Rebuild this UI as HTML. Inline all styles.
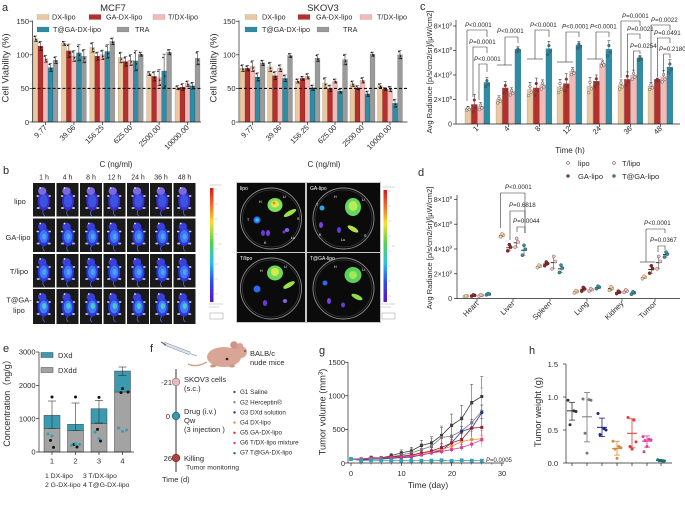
<!DOCTYPE html>
<html><head><meta charset="utf-8"><title>figure</title>
<style>
html,body{margin:0;padding:0;background:#fff;width:685px;height:505px;overflow:hidden}
svg{display:block;font-family:"Liberation Sans","Noto Sans CJK SC",sans-serif}
text{fill:#2a2a2a}
.w text{fill:#fff}
</style></head><body>
<svg id="fig" width="685" height="505" viewBox="0 0 685 505" xmlns="http://www.w3.org/2000/svg">
<defs>
<linearGradient id="cb" x1="0" y1="0" x2="0" y2="1">
<stop offset="0" stop-color="#d7191c"/><stop offset="0.15" stop-color="#f46d2b"/><stop offset="0.3" stop-color="#f5e02a"/><stop offset="0.48" stop-color="#4fd24f"/><stop offset="0.65" stop-color="#27c6e0"/><stop offset="0.82" stop-color="#2b4cf0"/><stop offset="1" stop-color="#5a12c8"/>
</linearGradient>
</defs>
<g id="g"></g>
<g font-size="7.5">
<!-- panel a -->
<text x="2" y="11" font-size="11">a</text>
<text x="113" y="11" font-size="9.5" text-anchor="middle">MCF7</text>
<text x="323" y="11" font-size="9.5" text-anchor="middle">SKOV3</text>
<g font-size="7.2">
<text x="52" y="19.5">DX-lipo</text><text x="106" y="19.5">GA-DX-lipo</text><text x="168" y="19.5">T/DX-lipo</text>
<text x="53" y="32">T@GA-DX-lipo</text><text x="135" y="32">TRA</text>
<text x="262" y="19.5">DX-lipo</text><text x="316" y="19.5">GA-DX-lipo</text><text x="377" y="19.5">T/DX-lipo</text>
<text x="262" y="32">T@GA-DX-lipo</text><text x="343" y="32">TRA</text>
</g>
<g text-anchor="end">
<text x="29" y="23.8">150</text><text x="29" y="57.3">100</text><text x="29" y="91.2">50</text><text x="29" y="124.8">0</text>
<text x="235.5" y="23.8">150</text><text x="235.5" y="57.3">100</text><text x="235.5" y="91.2">50</text><text x="235.5" y="124.8">0</text>
<text transform="translate(47.5,128) rotate(-45)">9.77</text>
<text transform="translate(75.9,128) rotate(-45)">39.06</text>
<text transform="translate(104.3,128) rotate(-45)">156.25</text>
<text transform="translate(132.7,128) rotate(-45)">625.00</text>
<text transform="translate(161.1,128) rotate(-45)">2500.00</text>
<text transform="translate(189.5,128) rotate(-45)">10000.00</text>
<text transform="translate(254.5,128) rotate(-45)">9.77</text>
<text transform="translate(282,128) rotate(-45)">39.06</text>
<text transform="translate(309.5,128) rotate(-45)">156.25</text>
<text transform="translate(337,128) rotate(-45)">625.00</text>
<text transform="translate(364.5,128) rotate(-45)">2500.00</text>
<text transform="translate(392,128) rotate(-45)">10000.00</text>
</g>
<text transform="translate(8.5,68) rotate(-90)" text-anchor="middle" font-size="9.5">Cell Viability (%)</text>
<text transform="translate(216.5,68) rotate(-90)" text-anchor="middle" font-size="9.5">Cell Viability (%)</text>
<text x="116" y="167" font-size="8" text-anchor="middle">C (ng/ml)</text>
<text x="324" y="167" font-size="8" text-anchor="middle">C (ng/ml)</text>

<!-- panel c -->
<text x="420" y="10" font-size="11">c</text>
<text transform="translate(432,72) rotate(-90)" text-anchor="middle" font-size="7.6">Avg Radiance [p/s/cm2/sr]/[μW/cm2]</text>
<g text-anchor="end" font-size="7">
<text x="452" y="28.5">8×10<tspan font-size="4.5" dy="-3">9</tspan></text>
<text x="452" y="53">6×10<tspan font-size="4.5" dy="-3">9</tspan></text>
<text x="452" y="77.5">4×10<tspan font-size="4.5" dy="-3">9</tspan></text>
<text x="452" y="102">2×10<tspan font-size="4.5" dy="-3">9</tspan></text>
<text x="452" y="126.5">0</text>
</g>
<g text-anchor="end">
<text transform="translate(479,129) rotate(-45)">1</text>
<text transform="translate(510,129) rotate(-45)">4</text>
<text transform="translate(541,129) rotate(-45)">8</text>
<text transform="translate(571.5,129) rotate(-45)">12</text>
<text transform="translate(601.5,129) rotate(-45)">24</text>
<text transform="translate(632.5,129) rotate(-45)">36</text>
<text transform="translate(662.5,129) rotate(-45)">48</text>
</g>
<text x="570" y="153" font-size="8" text-anchor="middle">Time (h)</text>
<g font-size="6.2">
<text x="465" y="27"><tspan font-style="italic">P</tspan>&lt;0.0001</text>
<text x="469" y="44"><tspan font-style="italic">P</tspan>=0.0001</text>
<text x="474" y="61"><tspan font-style="italic">P</tspan>&lt;0.0001</text>
<text x="497" y="33"><tspan font-style="italic">P</tspan>&lt;0.0001</text>
<text x="530" y="27"><tspan font-style="italic">P</tspan>&lt;0.0001</text>
<text x="562" y="28.5"><tspan font-style="italic">P</tspan>&lt;0.0001</text>
<text x="590" y="28.5"><tspan font-style="italic">P</tspan>&lt;0.0001</text>
<text x="622" y="18"><tspan font-style="italic">P</tspan>=0.0001</text>
<text x="627" y="31"><tspan font-style="italic">P</tspan>=0.0021</text>
<text x="630" y="48"><tspan font-style="italic">P</tspan>=0.0254</text>
<text x="651" y="22"><tspan font-style="italic">P</tspan>=0.0022</text>
<text x="654" y="35"><tspan font-style="italic">P</tspan>=0.0491</text>
<text x="659" y="51"><tspan font-style="italic">P</tspan>=0.2180</text>
</g>
<g font-size="7.5">
<text x="578" y="166">lipo</text><text x="622" y="166">T/lipo</text>
<text x="578" y="179">GA-lipo</text><text x="622" y="179">T@GA-lipo</text>
</g>

<!-- panel d -->
<text x="418" y="176" font-size="11">d</text>
<text transform="translate(432,248) rotate(-90)" text-anchor="middle" font-size="7.6">Avg Radiance [p/s/cm2/sr]/[μW/cm2]</text>
<g text-anchor="end" font-size="7">
<text x="452" y="202">8×10<tspan font-size="4.5" dy="-3">9</tspan></text>
<text x="452" y="226.8">6×10<tspan font-size="4.5" dy="-3">9</tspan></text>
<text x="452" y="251.5">4×10<tspan font-size="4.5" dy="-3">9</tspan></text>
<text x="452" y="276.3">2×10<tspan font-size="4.5" dy="-3">9</tspan></text>
<text x="452" y="301">0</text>
</g>
<g text-anchor="end">
<text transform="translate(479,304) rotate(-45)">Heart</text>
<text transform="translate(515,304) rotate(-45)">Liver</text>
<text transform="translate(552,304) rotate(-45)">Spleen</text>
<text transform="translate(589,304) rotate(-45)">Lung</text>
<text transform="translate(624,304) rotate(-45)">Kidney</text>
<text transform="translate(657,304) rotate(-45)">Tumor</text>
</g>
<g font-size="6.2">
<text x="505" y="189"><tspan font-style="italic">P</tspan>&lt;0.0001</text>
<text x="509" y="207"><tspan font-style="italic">P</tspan>=0.6818</text>
<text x="513" y="223"><tspan font-style="italic">P</tspan>=0.0044</text>
<text x="644" y="225"><tspan font-style="italic">P</tspan>&lt;0.0001</text>
<text x="650" y="242"><tspan font-style="italic">P</tspan>=0.0367</text>
</g>

<!-- panel b -->
<text x="3" y="174" font-size="11">b</text>
<g font-size="7" text-anchor="middle">
<text x="44" y="179.5">1 h</text><text x="67.5" y="179.5">4 h</text><text x="91" y="179.5">8 h</text><text x="114.5" y="179.5">12 h</text><text x="138" y="179.5">24 h</text><text x="161" y="179.5">36 h</text><text x="184.5" y="179.5">48 h</text>
<text x="20" y="204" font-size="7.5">lipo</text>
<text x="18" y="240" font-size="7.5">GA-lipo</text>
<text x="19" y="274" font-size="7.5">T/lipo</text>
<text x="19" y="302.5" font-size="7.5">T@GA-</text>
<text x="19" y="313" font-size="7.5">lipo</text>
</g>
<g class="w" font-size="5">
<text x="240" y="190">lipo</text>
<text x="310" y="190">GA-lipo</text>
<text x="240" y="260">T/lipo</text>
<text x="310" y="260">T@GA-lipo</text>
</g>
<g class="w" font-size="3.6">
<text x="259" y="203">H</text><text x="283" y="198">Li</text><text x="297" y="220">S</text><text x="247" y="221">T</text><text x="264" y="244">K</text><text x="291" y="239">Lu</text>
<text x="334" y="198">H</text><text x="362" y="201">Li</text><text x="316" y="206">T</text><text x="319" y="236">K</text><text x="341" y="241">Lu</text><text x="364" y="237">S</text>
<text x="260" y="272">H</text><text x="284" y="268">Li</text><text x="334" y="268">H</text><text x="362" y="271">Li</text>
</g>

<!-- panel e -->
<text x="3" y="352" font-size="11">e</text>
<g text-anchor="end">
<text x="35.5" y="354.7">3000</text><text x="35.5" y="388">2000</text><text x="35.5" y="421.4">1000</text><text x="35.5" y="454.7">0</text>
</g>
<g text-anchor="middle">
<text x="52" y="463.5">1</text><text x="75.5" y="463.5">2</text><text x="99" y="463.5">3</text><text x="122.5" y="463.5">4</text>
</g>
<text x="58" y="358">DXd</text><text x="58" y="373">DXdd</text>
<g font-size="6.8">
<text x="45" y="478">1 DX-lipo</text><text x="83" y="478">3 T/DX-lipo</text>
<text x="45" y="487">2 G-DX-lipo</text><text x="83" y="487">4 T@G-DX-lipo</text>
</g>
<text transform="translate(10,401) rotate(-90)" text-anchor="middle" font-size="9">Concentration（ng/g）</text>

<!-- panel f -->
<text x="150" y="352" font-size="11">f</text>
<text x="250" y="356">BALB/c</text><text x="250" y="365">nude mice</text>
<text x="172" y="385" text-anchor="end">-21</text>
<text x="184" y="382">SKOV3 cells</text><text x="184" y="391">(s.c.)</text>
<text x="170" y="419" text-anchor="end">0</text>
<text x="184" y="414">Drug (i.v.)</text><text x="184" y="423">Qw</text><text x="184" y="432">(3 injection )</text>
<text x="172" y="461" text-anchor="end">26</text>
<text x="184" y="461">Killing</text><text x="186" y="469.5" font-size="6.8">Tumor monitoring</text>
<text x="162" y="482">Time (d)</text>
<g font-size="6.3">
<text x="240" y="394">G1 Saline</text>
<text x="240" y="404.5">G2 Herceptin®</text>
<text x="240" y="414.5">G3 DXd solution</text>
<text x="240" y="424.5">G4 DX-lipo</text>
<text x="240" y="434.5">G5 GA-DX-lipo</text>
<text x="240" y="444.5">G6 T/DX-lipo mixture</text>
<text x="240" y="454.5">G7 T@GA-DX-lipo</text>
</g>

<!-- panel g -->
<text x="319" y="354" font-size="11">g</text>
<g text-anchor="end">
<text x="345" y="365">1500</text><text x="345" y="398.5">1000</text><text x="345" y="432">500</text><text x="345" y="466">0</text>
</g>
<g text-anchor="middle">
<text x="351" y="476">0</text><text x="401.5" y="476">10</text><text x="452" y="476">20</text><text x="502" y="476">30</text>
</g>
<text x="428" y="488" font-size="8.5" text-anchor="middle">Time (day)</text>
<text transform="translate(325.5,412) rotate(-90)" text-anchor="middle" font-size="9.3">Tumor volume (mm<tspan font-size="6" dy="-3">3</tspan><tspan dy="3">)</tspan></text>
<text x="486" y="462" font-size="6"><tspan font-style="italic">P</tspan>=0.0005</text>

<!-- panel h -->
<text x="529" y="354" font-size="11">h</text>
<g text-anchor="end">
<text x="558" y="367">1.5</text><text x="558" y="400">1.0</text><text x="558" y="433">0.5</text><text x="558" y="466">0.0</text>
</g>
<text transform="translate(541,412) rotate(-90)" text-anchor="middle" font-size="9.3">Tumor weight (g)</text>
</g>
</svg>
<script>
const NS='http://www.w3.org/2000/svg',G=document.getElementById('g');
function el(t,a){const e=document.createElementNS(NS,t);for(const k in a)e.setAttribute(k,a[k]);G.appendChild(e);return e;}
function L(x1,y1,x2,y2,s,w,d){const a={x1:x1,y1:y1,x2:x2,y2:y2,stroke:s||'#222','stroke-width':w||0.7};if(d)a['stroke-dasharray']=d;return el('line',a);}
function R(x,y,w,h,f,s,sw){const a={x:x,y:y,width:w,height:h,fill:f};if(s){a.stroke=s;a['stroke-width']=sw||0.4;}return el('rect',a);}
function C(cx,cy,r,f,s,sw){const a={cx:cx,cy:cy,r:r,fill:f};if(s){a.stroke=s;a['stroke-width']=sw||0.5;}return el('circle',a);}
function E(cx,cy,rx,ry,f,o,tr){const a={cx:cx,cy:cy,rx:rx,ry:ry,fill:f};if(o!=null)a.opacity=o;if(tr)a.transform=tr;return el('ellipse',a);}
function P(pts,s,w,f){return el('polyline',{points:pts.map(p=>p.join(',')).join(' '),fill:f||'none',stroke:s||'#222','stroke-width':w||0.6});}

const COL=['#EAC9A2','#B3302D','#F2BBB7','#2E8CA4','#9B9B9B'];
/* ---------- panel a ---------- */
const mcf=[[124,113,94,81,92],[117,106,98,103,98],[111,98,100,105,120],[96,90,92,91,101],[72,68,66,76,104],[51,52,57,54,95]];
const mcfE=[[4,7,5,6,5],[3,10,8,12,10],[7,6,7,10,5],[8,7,8,15,3],[3,7,12,25,4],[3,5,4,5,10]];
const skov=[[80,80,83,67,88],[82,69,80,65,99],[61,65,68,51,95],[58,50,61,46,93],[57,51,62,42,101],[54,49,49,28,100]];
const skovE=[[5,4,8,6,4],[7,6,5,5,3],[3,3,4,4,5],[8,5,3,3,8],[4,3,4,4,3],[3,2,4,6,6]];
function panelA(ax,start,gw,data,err){
 const Y=v=>122-v*0.672;
 data.forEach((grp,g)=>grp.forEach((v,b)=>{const x=start+g*gw+b*5,y=Y(v);R(x,y,5,122-y,COL[b],'rgba(0,0,0,0.35)',0.3);}));
 data.forEach((grp,g)=>grp.forEach((v,b)=>{
  const x=start+g*gw+b*5+2.5,y=Y(v),e=err[g][b]*0.672;
  L(x,y-e,x,y+e,'#111',0.5);L(x-1.6,y-e,x+1.6,y-e,'#111',0.5);L(x-1.6,y+e,x+1.6,y+e,'#111',0.5);
  C(x-1.2,y-e*0.8,0.75,'#111');C(x+0.6,y+e*0.3,0.75,'#111');C(x+1.3,y+e*0.9,0.75,'#111');
 }));
 L(ax,20.5,ax,122);[0,50,100,150].forEach(v=>L(ax-3,Y(v),ax,Y(v)));
 L(ax,122,ax+168.5,122);
 data.forEach((q,g)=>{const cx=start+g*gw+12.5;L(cx,122,cx,125);});
 L(ax,88.4,ax+168.5,88.4,'#111',1.1,'3,2');
}
panelA(32.5,33,28.4,mcf,mcfE);panelA(239,240,27.5,skov,skovE);
[[37,14.5,0],[89,14.5,1],[153,14.5,2],[37,27,3],[117,27,4],[245,14.5,0],[298,14.5,1],[360,14.5,2],[245,27,3],[317,27,4]].forEach(a=>R(a[0],a[1],12,5,COL[a[2]],'rgba(0,0,0,0.3)',0.3));

/* ---------- panel c ---------- */
const cS=[465,496,527,557,587,618,648];
const CY=v=>124-v*12.25;
const cd=[[1.3,1.6,1.45,3.4],[2.0,2.95,2.65,6.1],[2.8,2.95,3.2,6.15],[3.05,3.3,4.3,6.45],[3.1,3.5,4.95,6.1],[3.2,3.65,4.0,5.4],[3.1,3.65,3.85,4.65]];
const cE=[[0.15,0.8,0.3,0.4],[0.3,0.5,0.3,0.2],[0.6,0.8,0.4,0.6],[0.6,0.8,0.3,0.3],[0.7,0.5,0.2,0.7],[0.4,0.6,0.4,0.2],[0.3,0.1,0.5,0.6]];
const PT=['#f5e2c8','#9c2a2a','#f8d6d3','#2a7f95'];
cd.forEach((g,i)=>g.forEach((v,b)=>{const x=cS[i]+b*6.3;R(x,CY(v),6,124-CY(v),COL[b],'rgba(0,0,0,0.35)',0.3);}));
cd.forEach((g,i)=>g.forEach((v,b)=>{const x=cS[i]+b*6.3+3,y=CY(v),e=cE[i][b]*12.25;
 L(x,y-e,x,y,'#222',0.5);L(x-1.5,y-e,x+1.5,y-e,'#222',0.5);
 [[-1,0.6],[0,-0.5],[1,0.2]].forEach(d=>C(x+d[0]*1.3,y+d[1]*e*1.1+1,1.35,PT[b],'#444',0.45));}));
L(456,20,456,124);[0,2,4,6,8].forEach(v=>L(453,CY(v),456,CY(v)));
L(456,124,680,124);cS.forEach(s=>L(s+12.5,124,s+12.5,127));
const br=[
 [[467,101],[467,30],[487,30],[487,37]],[[473,97],[473,47],[487,47],[487,53]],[[479,100],[479,64],[487,64],[487,72]],
 [[497,65],[512,65]],[[505,65],[505,37],[518,37],[518,43]],
 [[527,59],[543,59]],[[535,59],[535,30],[549,30],[549,37]],
 [[557,62],[573,62]],[[566,62],[566,32],[579,32],[579,37]],
 [[587,59],[603,59]],[[596,59],[596,32],[609,32],[609,37]],
 [[621,78],[621,21],[640,21],[640,26]],[[627.3,76],[627.3,34],[640,34],[640,39]],[[633.6,70],[633.6,51],[640,51],[640,54]],
 [[651,82],[651,25],[670,25],[670,30]],[[657.3,77],[657.3,38],[670,38],[670,43]],[[663.6,72],[663.6,54],[670,54],[670,58]]
];
br.forEach(p=>P(p,'#333',0.6));
[[568,163,0],[614,163,2],[568,176,1],[614,176,3]].forEach(a=>C(a[0],a[1],1.5,PT[a[2]],'#444',0.5));

/* ---------- panel d ---------- */
const dCx=[477,513,550,587,622,655],off=[-11,-3.7,3.7,11];
const DY=v=>298.6-v*12.4;
const dd=[[0.2,0.25,0.25,0.35],[5.1,4.1,4.5,3.9],[2.6,2.8,2.9,2.4],[0.55,0.75,0.7,0.9],[0.8,0.5,0.6,0.45],[1.7,2.35,2.9,3.55]];
const dE=[[0.03,0.05,0.05,0.05],[0.12,0.25,0.35,0.4],[0.1,0.15,0.5,0.3],[0.1,0.15,0.1,0.1],[0.15,0.1,0.1,0.1],[0.1,0.3,0.5,0.2]];
const dF=['#EDD0AE','#8E2B2B','#F0C4C0','#3F8E9E'],dS=['#9a7a58','#5a1818','#8a6060','#1e5560'];
dd.forEach((g,i)=>g.forEach((v,b)=>{const x=dCx[i]+off[b],e=dE[i][b];
 L(x,DY(v-e),x,DY(v+e),'#333',0.5);L(x-1.5,DY(v+e),x+1.5,DY(v+e),'#333',0.5);L(x-1.5,DY(v-e),x+1.5,DY(v-e),'#333',0.5);
 L(x-3,DY(v),x+3,DY(v),'#222',0.9);
 [[-1.6,-e],[1.4,0.2*e],[0,e]].forEach(p=>C(x+p[0],DY(v+p[1]),1.55,dF[b],dS[b],0.5));}));
L(457,195,457,298.6);[0,2,4,6,8].forEach(v=>L(454,DY(v),457,DY(v)));
L(457,298.6,680,298.6);dCx.forEach(x=>L(x,298.6,x,301.6));
[[[500.5,228],[500.5,193],[525,193],[525,233]],[[510,240],[510,211],[525,211],[525,222]],[[517,232],[517,227],[525,227],[525,233]],
 [[640,262],[655,262]],[[646,262],[646,229],[665,229],[665,233]],[[658,252],[658,246],[665,246],[665,250]]].forEach(p=>P(p,'#333',0.6));

/* ---------- panel b ---------- */
function mouse(x,y,w,h,r,c){
 R(x,y,w,h,'#1a1a1a');
 const jx=((c*7+r*3)%3-1)*0.8;
 el('path',{d:'M'+(x+11+jx)+' '+(y+27)+' Q'+(x+9)+' '+(y+31)+' '+(x+12)+' '+(y+33),stroke:'#5a6ad8','stroke-width':0.8,fill:'none'});
 E(x+11.5+jx,y+18,6,9.5,r==0?'#3a2ad0':'#2a34e0');
 E(x+6+jx,y+25,1.6,1,'#b0b0e8');E(x+17+jx,y+25,1.6,1,'#b0b0e8');
 E(x+5.5+jx,y+13,1.3,0.9,'#d0d0f0');E(x+17.5+jx,y+13,1.3,0.9,'#d0d0f0');
 E(x+11.5+jx,y+18,4.2,6.5,'#3f86f2',[0.45,0.85,0.85,0.9][r]);
 if(r==3)E(x+12+jx,y+17,2.2,3,'#4fd8c8',0.8);
 if(r==1||r==2)E(x+12+jx,y+18,2,3,'#5ab0f5',0.7);
 E(x+10+jx,y+8,4.2,3.9,r==0?'#7a6ae0':'#3a40dc');
 C(x+8+jx,y+5,0.9,'#e6e6f0');
}
const bx=[33,56.5,80,103.5,127,150,173.5],by=[183,218.5,254,289];
by.forEach((y,r)=>bx.forEach((x,c)=>mouse(x,y,22,r==3?35:33.5,r,c)));
R(210,188,3.5,114,'url(#cb)');R(383.5,190,3.5,112,'url(#cb)');
[[214.5,189],[388,191]].forEach(p=>{for(let i=0;i<8;i++)L(p[0],p[1]+i*15,p[0]+3,p[1]+i*15,'#aaa',0.4);
 L(p[0]-5,p[1]-4,p[0]+7,p[1]-4,'#bbb',0.6);L(p[0]+4,p[1]+55,p[0]+7,p[1]+55,'#aaa',0.5);});
[[209,304],[381,304]].forEach(p=>{L(p[0],p[1],p[0]+14,p[1],'#bbb',0.6);L(p[0],p[1]+3,p[0]+10,p[1]+3,'#bbb',0.6);el('rect',{x:p[0]+1,y:p[1]+9,width:13,height:6,fill:'none',stroke:'#999','stroke-width':0.5});});
R(236,182,145,141,'#c8c8c8');
function dish(x,y,w,h,org){
 R(x,y,w,h,'#0b0b0b');
 const cx=x+w/2,cy=y+h/2+1;
 el('circle',{cx:cx,cy:cy,r:30.5,fill:'none',stroke:'#8c8c8c','stroke-width':0.9});
 el('circle',{cx:cx,cy:cy,r:28.5,fill:'none',stroke:'#4a4a4a','stroke-width':0.6});
 org.forEach(o=>E(x+o[0],y+o[1],o[2],o[3],o[4],o[5]==null?1:o[5],o[6]?'rotate('+o[6]+' '+(x+o[0])+' '+(y+o[1])+')':null));
}
dish(237,183,68,69,[[38,22,7.5,7,'#7ee05a'],[38,21,4,3.5,'#e8e84a'],[37,20,1.5,1.5,'#f08a2a'],[53,30,7,2.3,'#9ee04a',1,-30],
 [20,37,3.6,3.6,'#2a6af0'],[20,37,1.8,1.8,'#37c8f0'],[26,50,2,3,'#6a38d8'],[31,50,2,3,'#7a40e0'],[50,47,2.3,2,'#8a5ae8'],[47,49,1.5,1.5,'#6a38d8']]);
dish(307,183,73,69,[[46,24,8,9,'#62d860'],[46,23,4.5,5,'#b8ec58'],[15,25,2.5,2.5,'#2fa8e8'],[14,42,2,3,'#7a40e0'],[32,47,2,3,'#6a38d8'],[46,46,6,2.3,'#b8e04a',1,30]]);
dish(237,253,68,69,[[38,20,8,7.5,'#6ad85a'],[38,19,4,4,'#d8e84a'],[20,36,3.5,3.5,'#2a6af0'],[52,32,6.5,2.3,'#9ee04a',1,-30],[28,50,2.2,3,'#6a38d8'],[48,48,2.2,2,'#8a5ae8']]);
dish(307,253,73,69,[[46,22,8.5,8,'#5ad05a'],[46,22,4,4,'#9ee85a'],[18,30,2.5,2.5,'#2a6af0'],[50,44,6,2.3,'#8ede4a',1,25],[22,48,2,3,'#7a40e0'],[36,52,2,2.5,'#6a38d8']]);

/* ---------- panel e ---------- */
const EY=v=>452-v*0.03333,eC=[52,75.5,99,122.5];
const dxdd=[700,640,850,1800],tot=[1100,830,1300,2430],eTop=[1530,1470,1550,2550],eBot=[700,640,870,2300];
eC.forEach((x,i)=>{R(x-8,EY(dxdd[i]),16,452-EY(dxdd[i]),'#A3A3A3','#444',0.5);R(x-8,EY(tot[i]),16,EY(dxdd[i])-EY(tot[i]),'#3A9BB0','#444',0.5);
 L(x,EY(eBot[i]),x,EY(eTop[i]),'#333',0.6);L(x-4,EY(eTop[i]),x+4,EY(eTop[i]),'#333',0.6);L(x-4,EY(eBot[i]),x+4,EY(eBot[i]),'#333',0.6);});
const bD=[[1650,350,140],[1650,230,150],[1640,680,330],[1900,1780,1800]],tD=[[540,480],[200,250,230],[600,400],[720,620,660]];
bD.forEach((a,i)=>a.forEach((v,j)=>C(eC[i]+[0,-1.5,1.5][j]+(j==2&&i==3?4:0),EY(v),1.5,'#111')));
tD.forEach((a,i)=>a.forEach((v,j)=>C(eC[i]+[-4,0,4][j],EY(v),1.5,'#3A9BB0')));
L(39,352,39,452);[0,1000,2000,3000].forEach(v=>L(36,EY(v),39,EY(v)));L(39,452,134,452);eC.forEach(x=>L(x,452,x,455));
R(41,352.5,12,5,'#3A9BB0','#444',0.5);R(41,367.5,12,5,'#A3A3A3','#444',0.5);

/* ---------- panel f ---------- */
el('line',{x1:164,y1:343.5,x2:190,y2:353.5,stroke:'#7a86a0','stroke-width':3.2});
el('line',{x1:164,y1:343.5,x2:190,y2:353.5,stroke:'#dfe4ee','stroke-width':2.2});
L(190,353.5,197,356,'#777',0.6);L(161,342,166,345,'#666',1.2);
el('path',{d:'M207 362 Q196 368 188 364',stroke:'#d3a193','stroke-width':1.4,fill:'none'});
E(224,357,17,10,'#D9A597');E(239,352,8,6.5,'#D9A597');C(234,345,3.8,'#cf9586');C(240,346,3,'#d6a092');
E(213,366,3,1.5,'#cf9586');E(232,366,3,1.5,'#cf9586');C(227,359,1.3,'#3a1a1a');C(245,351,0.8,'#3a1a1a');
L(176,369,176,472,'#333',1);
C(176,382,3.8,'#E8BABD','#9a6b6e',0.7);C(176,416,3.8,'#3A96AA','#1e5c6a',0.7);C(176,458,3.8,'#B5423A','#6e241e',0.7);
['#555','#888','#1a2a80','#f0883e','#d9302b','#d63c9b','#1f6f78'].forEach((c,i)=>C(234.5,392+i*10.2,1.2,c));

/* ---------- panel g ---------- */
const GX=d=>351+d*5.03,GY=v=>463-v*0.0672;
const gS=[
 ['#3a3a3a',[60,50,80,75,110,150,180,260,300,410,560,660,900,990],0.3,'s'],
 ['#7a7a7a',[60,55,70,70,90,120,150,200,250,380,400,480,600,770],0.45,'s'],
 ['#22307e',[60,40,60,60,70,80,90,120,150,190,300,470,520,750],0.15,'c'],
 ['#e8893f',[60,65,70,70,85,95,110,140,170,200,250,320,350,360],0.35,'c'],
 ['#8e1f3f',[60,60,75,70,90,100,120,150,180,230,300,350,520,530],0.25,'s'],
 ['#d8408e',[55,60,70,70,80,90,100,120,150,170,200,230,280,345],0.2,'s'],
 ['#3aa0b8',[60,35,40,40,38,35,35,35,35,40,30,40,35,35],0.1,'s']];
gS.forEach(s=>s[1].forEach((v,i)=>{const x=GX(i*2),e=Math.max(v*s[2],8);L(x,GY(Math.max(v-e,0)),x,GY(v+e),s[0],0.5);L(x-1.5,GY(v+e),x+1.5,GY(v+e),s[0],0.5);}));
gS.forEach(s=>P(s[1].map((v,i)=>[GX(i*2),GY(v)]),s[0],0.8));
gS.forEach((s,k)=>s[1].forEach((v,i)=>{const x=GX(i*2),y=GY(v),r=k==6?1.9:1.5;if(s[3]=='s')R(x-r,y-r,2*r,2*r,s[0]);else C(x,y,1.6,s[0]);}));
L(348,362,348,463);[0,500,1000,1500].forEach(v=>L(345,GY(v),348,GY(v)));
L(348,463,504,463);[0,10,20,30].forEach(d=>L(GX(d),463,GX(d),466));
for(let d=2;d<30;d+=2)if(d%10)L(GX(d),463,GX(d),464.6,'#222',0.5);

/* ---------- panel h ---------- */
const HY=v=>463-v*66,hx=[572,587,602,617,632,647,661];
const hD=[['#333',0.79,[0.65,0.92],[0.95,0.79,0.78,0.58]],['#777',0.70,[0.32,1.07],[0.97,0.96,0.95,0.45,0.15]],['#1a237e',0.54,[0.40,0.68],[0.75,0.52,0.50,0.43]],
 ['#d98a3a',0.22,[0.12,0.33],[0.33,0.25,0.23,0.21,0.07]],['#e53935',0.45,[0.23,0.67],[0.69,0.65,0.32,0.25,0.21]],['#e0409a',0.33,[0.24,0.41],[0.40,0.36,0.35,0.34,0.25,0.17]],
 ['#1a6e6e',0.04,[0.02,0.05],[0.05,0.04,0.04,0.03,0.03]]];
const jit=[-4,2,4,-2,0,-3];
hD.forEach((d,i)=>{const x=hx[i],c=d[0];
 L(x,HY(d[2][0]),x,HY(d[2][1]),c,0.8);L(x-3,HY(d[2][0]),x+3,HY(d[2][0]),c,0.8);L(x-3,HY(d[2][1]),x+3,HY(d[2][1]),c,0.8);L(x-5,HY(d[1]),x+5,HY(d[1]),c,1);
 d[3].forEach((p,j)=>C(x+(i==6?(j-2)*1.6:jit[j]),HY(p),1.5,c));});
L(566,364,566,463);[0,0.5,1,1.5].forEach(v=>L(563,HY(v),566,HY(v)));L(566,463,672,463);hx.forEach(x=>L(x,463,x,466));
</script>
</body></html>
